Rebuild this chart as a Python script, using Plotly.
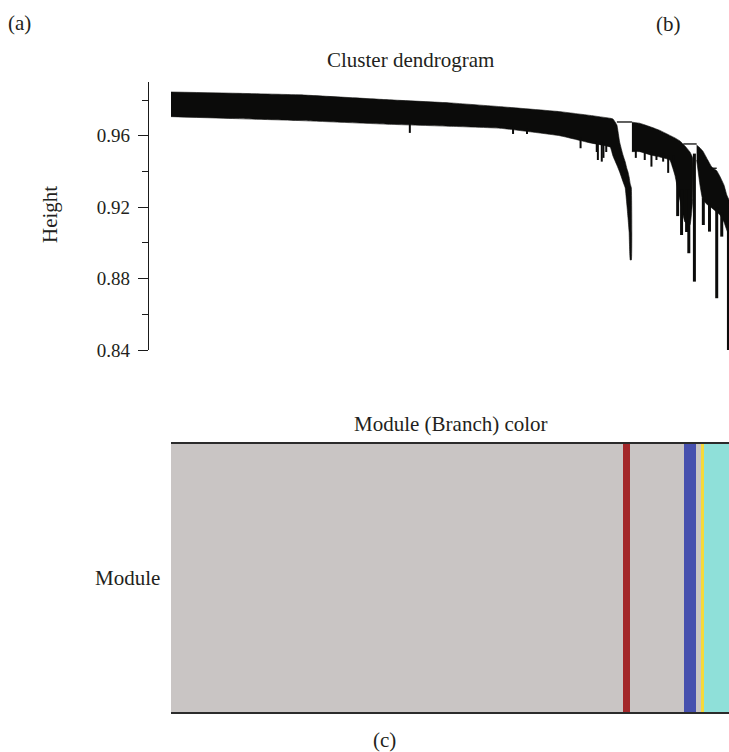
import plotly.graph_objects as go

# ---- Dendrogram outline (leaf position in % of genes, merge height) ----
main_x = [0.0, 11.5, 23.1, 39.2, 50.0, 59.0, 69.7, 75.1, 78.7, 79.2, 79.9, 80.4, 81.0, 81.4, 81.7, 81.9, 82.1, 82.3, 82.5]
main_top = [0.9845, 0.9838, 0.9829, 0.9801, 0.9784, 0.9763, 0.9735, 0.9714, 0.9698, 0.9694, 0.9661, 0.9565,
            0.9492, 0.9454, 0.9416, 0.9397, 0.9369, 0.9330, 0.9308]
main_bottom = [0.9707, 0.9696, 0.9685, 0.9664, 0.9653, 0.9642, 0.9600, 0.9560, 0.9537, 0.9487, 0.9436, 0.9397,
               0.9343, 0.9308, 0.9212, 0.9140, 0.9061, 0.8904, 0.8904]

mid_x = [82.6, 84.0, 86.0, 87.6, 89.4, 90.3, 91.2, 92.1, 93.0, 93.5]
mid_top = [0.9676, 0.9670, 0.9649, 0.9630, 0.9602, 0.9588, 0.9571, 0.9543, 0.9509, 0.9476]
mid_bottom = [0.9511, 0.9511, 0.9492, 0.9481, 0.9464, 0.9380, 0.9240, 0.9117, 0.9100, 0.9240]

right_x = [94.2, 94.8, 95.3, 96.2, 96.9, 97.8, 98.4, 99.1, 99.6, 100.0]
right_top = [0.9548, 0.9532, 0.9515, 0.9464, 0.9425, 0.9404, 0.9371, 0.9324, 0.9268, 0.9240]
right_bottom = [0.9464, 0.9324, 0.9240, 0.9212, 0.9196, 0.9173, 0.9156, 0.9117, 0.9072, 0.9044]

# short leaf spikes hanging below the dense clusters
spike_x = [42.8, 61.3, 63.8, 73.4, 76.3, 76.5, 77.2, 77.5, 78.0,
           83.3, 84.9, 86.1, 87.0, 88.2, 89.1, 90.0]
spike_top = [0.967, 0.965, 0.964, 0.959, 0.957, 0.957, 0.957, 0.956, 0.955,
             0.952, 0.952, 0.951, 0.950, 0.950, 0.949, 0.949]
spike_bottom = [0.9616, 0.9610, 0.9610, 0.9530, 0.9509, 0.9464, 0.9455, 0.9476, 0.9509,
                0.9476, 0.9464, 0.9427, 0.9464, 0.9455, 0.9392, 0.9427]

# long branches reaching low merge heights
strand_x = [90.8, 91.5, 92.4, 92.8, 93.8, 95.4, 96.5, 97.8, 98.7, 99.9]
strand_top = [0.935, 0.930, 0.930, 0.930, 0.950, 0.925, 0.922, 0.920, 0.917, 0.912]
strand_bottom = [0.9150, 0.9044, 0.9061, 0.8942, 0.8783, 0.9100, 0.9063, 0.8690, 0.9035, 0.8400]

# horizontal joins between clusters
link_x0 = [79.9, 91.8, 96.9]
link_x1 = [82.6, 94.2, 97.8]
link_h = [0.9677, 0.9554, 0.9418]

# ---- Module colour assignment ----
module_names = ["grey", "brown", "grey", "blue", "grey", "yellow", "turquoise"]
module_start = [0.0, 81.0, 82.3, 91.9, 94.1, 95.0, 95.5]
module_end = [81.0, 82.3, 91.9, 94.1, 95.0, 95.5, 100.0]
module_palette = {"grey": "#C9C5C4", "brown": "#A3282A", "blue": "#4650AE",
                  "yellow": "#F7D93A", "turquoise": "#8FE0D9"}

height_ticks = [0.84, 0.88, 0.92, 0.96]

W, H = 729, 752
INK = "#0B0B0A"
TEXT = "#231F20"
FONT = "Liberation Serif"


def px(x):
    return x / W


def py(y):
    return 1 - y / H


fig = go.Figure()


def band(xs, top, bottom):
    fig.add_trace(go.Scatter(
        x=list(xs) + list(xs)[::-1], y=list(top) + list(bottom)[::-1],
        fill="toself", fillcolor=INK, mode="lines",
        line=dict(color=INK, width=0.6, shape="spline", smoothing=0.3), hoverinfo="skip",
        xaxis="x", yaxis="y", showlegend=False))


def segments(x0s, y0s, x1s, y1s, width):
    xs, ys = [], []
    for a, b, c, d in zip(x0s, y0s, x1s, y1s):
        xs += [a, c, None]
        ys += [b, d, None]
    fig.add_trace(go.Scatter(x=xs, y=ys, mode="lines",
                             line=dict(color=INK, width=width),
                             hoverinfo="skip", xaxis="x", yaxis="y",
                             showlegend=False))


band(main_x, main_top, main_bottom)
band(mid_x, mid_top, mid_bottom)
band(right_x, right_top, right_bottom)
segments(spike_x, spike_top, spike_x, spike_bottom, 2)
segments(strand_x, strand_top, strand_x, strand_bottom, 3)
segments(link_x0, link_h, link_x1, link_h, 1.3)

# module colour strip
centers = [(s + e) / 2 for s, e in zip(module_start, module_end)]
widths = [e - s for s, e in zip(module_start, module_end)]
fig.add_trace(go.Bar(
    x=centers, y=[1] * len(centers), base=0, width=widths,
    marker=dict(color=[module_palette[m] for m in module_names], line=dict(width=0)),
    hoverinfo="skip", xaxis="x2", yaxis="y2", showlegend=False))
for edge in (0, 1):
    fig.add_trace(go.Scatter(
        x=[module_start[0], module_end[-1]], y=[edge, edge], mode="lines",
        line=dict(color="#2B2B2B", width=2), hoverinfo="skip",
        xaxis="x2", yaxis="y2", showlegend=False))

x_dom = [px(149), 1.0]
x_rng = [-3.943, 100]

fig.update_layout(
    width=W, height=H,
    margin=dict(l=0, r=0, t=0, b=0),
    paper_bgcolor="white", plot_bgcolor="white",
    font=dict(family=FONT, color=TEXT, size=18),
    bargap=0,
    xaxis=dict(domain=x_dom, range=x_rng, visible=False, anchor="y"),
    yaxis=dict(domain=[py(350), py(82)], range=[0.84, 0.9901], anchor="x",
               showgrid=False, zeroline=False, showline=True, linecolor="#1A1A1A",
               linewidth=1.2, ticks="outside", ticklen=10, tickwidth=1.2,
               tickcolor="#1A1A1A", tickvals=height_ticks,
               ticktext=[f"{v:.2f}" for v in height_ticks],
               ticklabelstandoff=4, automargin=False,
               tickfont=dict(family=FONT, size=19, color=TEXT),
               minor=dict(tick0=0.86, dtick=0.04, ticks="outside", ticklen=6,
                          tickwidth=1.2, tickcolor="#1A1A1A", showgrid=False)),
    xaxis2=dict(domain=x_dom, range=x_rng, visible=False, anchor="y2"),
    yaxis2=dict(domain=[py(715), py(441)], range=[-0.0074, 1.0074], anchor="x2",
                visible=False),
)

labels = [
    ("(a)", 19, 23, 0),
    ("(b)", 668, 24, 0),
    ("Cluster dendrogram", 410, 60, 0),
    ("Height", 50, 215, -90),
    ("Module (Branch) color", 451, 424, 0),
    ("Module", 128, 578, 0),
    ("(c)", 384, 740, 0),
]
for text, x, y, ang in labels:
    fig.add_annotation(text=text, x=px(x), y=py(y), xref="paper", yref="paper",
                       showarrow=False, textangle=ang, xanchor="center", yanchor="middle",
                       font=dict(family=FONT, size=21, color=TEXT))

fig.write_html("out.html")
